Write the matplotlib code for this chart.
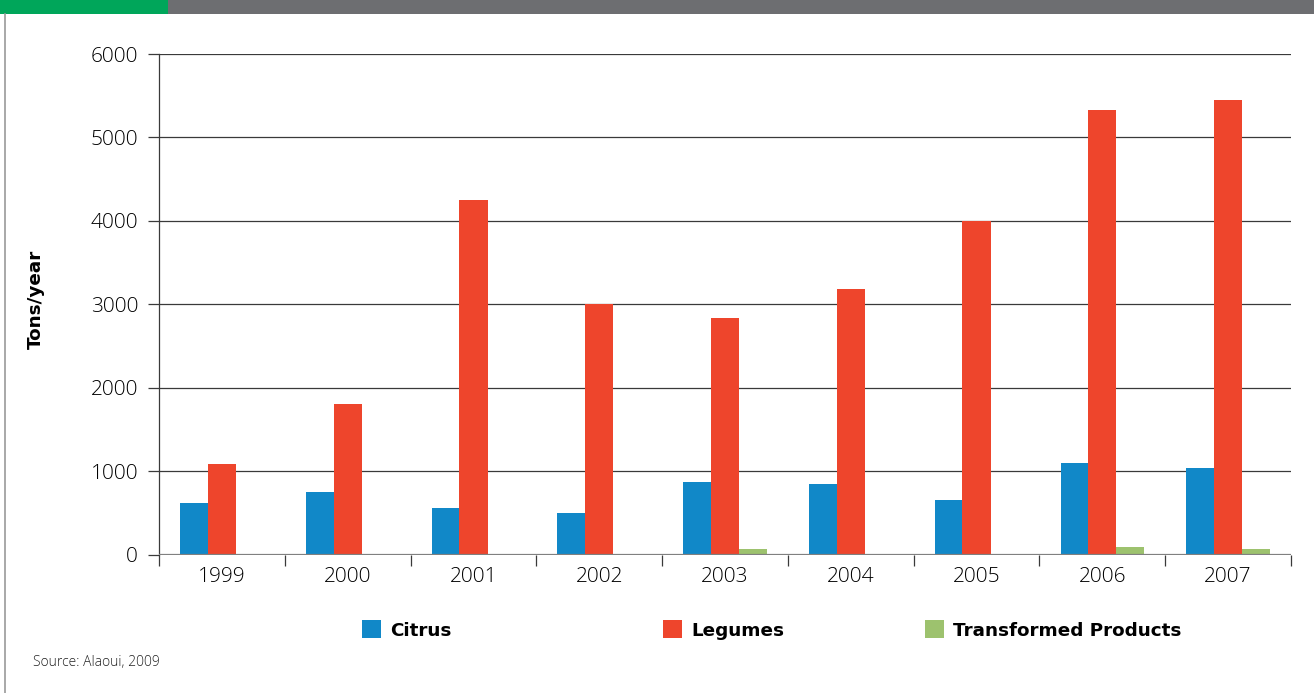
import numpy as np
import matplotlib.pyplot as plt
from matplotlib.patches import Rectangle, Patch
from matplotlib.lines import Line2D

years = ['1999', '2000', '2001', '2002', '2003', '2004', '2005', '2006', '2007']
citrus = [620, 745, 560, 500, 870, 845, 655, 1095, 1035]
legumes = [1090, 1810, 4250, 3000, 2830, 3180, 4000, 5330, 5450]
transformed = [3, 3, 3, 3, 65, 3, 3, 95, 70]
series_names = ['Citrus', 'Legumes', 'Transformed Products']
yticks = [0, 1000, 2000, 3000, 4000, 5000, 6000]

c_blue = '#1188c8'
c_red = '#ee452c'
c_green = '#9dc26e'

W, H = 1314, 693
fig = plt.figure(figsize=(W / 100, H / 100), dpi=100)
ax = fig.add_axes([159 / W, 1 - 554.5 / H, (1291 - 159) / W, (554.5 - 54) / H])

x = np.arange(len(years))
bw = 0.225
ax.bar(x - 0.22, citrus, bw, color=c_blue, zorder=3)
ax.bar(x, legumes, bw, color=c_red, zorder=3)
ax.bar(x + 0.22, transformed, bw, color=c_green, zorder=2)

ax.set_xlim(-0.5, len(years) - 0.5)
ax.set_ylim(0, 6000)

# horizontal grid lines
for v in yticks[1:]:
    ax.axhline(v, color='#3a3a3a', lw=0.9, zorder=1)
ax.axhline(0, color='#808080', lw=1.6, zorder=4)

for s in ['top', 'right', 'bottom']:
    ax.spines[s].set_visible(False)
ax.spines['left'].set_color('#3a3a3a')
ax.spines['left'].set_linewidth(0.9)

tick_font = dict(family='Open Sans', weight='light', size=15)
ax.set_yticks(yticks)
ax.set_yticklabels([str(v) for v in yticks], **tick_font)
ax.tick_params(axis='y', length=8, width=0.9, color='#3a3a3a', pad=7)

ax.set_xticks(x)
ax.set_xticklabels(years, **tick_font)
ax.set_xticks(np.arange(len(years) + 1) - 0.5, minor=True)
ax.tick_params(axis='x', which='major', length=0, pad=9)
ax.tick_params(axis='x', which='minor', length=8, width=0.9, color='#3a3a3a', direction='out')

fig.text(36 / W, 1 - 299 / H, 'Tons/year', rotation=90, ha='center', va='center',
         family='DejaVu Sans', weight='bold', size=13.2)

# legend, three separate entries as in the original layout
colors = [c_blue, c_red, c_green]
lx = [362, 663, 925]
for name, col, px in zip(series_names, colors, lx):
    fig.legend(handles=[Patch(facecolor=col, edgecolor='none')], labels=[name],
               loc='center left', bbox_to_anchor=(px / W, 1 - 630 / H),
               frameon=False, borderpad=0, borderaxespad=0,
               handlelength=1.05, handleheight=1.1, handletextpad=0.5,
               prop=dict(family='DejaVu Sans', weight='bold', size=13.2))

fig.text(33 / W, 1 - 662 / H, 'Source: Alaoui, 2009', ha='left', va='center',
         family='Open Sans', weight='light', size=10, color='#222222')

# header band and left border
fig.patches.append(Rectangle((0, 1 - 14 / H), 168 / W, 14 / H, transform=fig.transFigure,
                             facecolor='#00a65a', edgecolor='none'))
fig.patches.append(Rectangle((168 / W, 1 - 14 / H), 1 - 168 / W, 14 / H, transform=fig.transFigure,
                             facecolor='#6d6e71', edgecolor='none'))
fig.lines.append(Line2D([5 / W, 5 / W], [0, 1 - 14 / H], transform=fig.transFigure,
                        color='#999999', lw=1.2))

fig.savefig('out.png', dpi=100)
